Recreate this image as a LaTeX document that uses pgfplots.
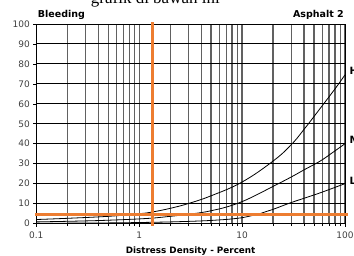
\documentclass[border=0pt]{standalone}
\usepackage{fontspec}
\setmainfont{DejaVu Sans}
\newfontfamily\seriffont{Liberation Serif}
\usepackage{pgfplots}
\pgfplotsset{compat=1.18}
\definecolor{org}{RGB}{237,125,49}
\begin{document}
\begin{tikzpicture}
\begin{axis}[
  scale only axis, width=308.7pt, height=199.5pt,
  xmode=log, xmin=0.1, xmax=100, ymin=0, ymax=100,
  xtick={0.1,1,10,100}, xticklabels={0.1,1,10,100},
  minor xtick={0.2,0.3,0.4,0.5,0.6,0.7,0.8,0.9,2,3,4,5,6,7,8,9,20,30,40,50,60,70,80,90},
  ytick={0,10,20,30,40,50,60,70,80,90,100},
  xmajorgrids, xminorgrids, ymajorgrids,
  major x grid style={black!62, line width=1.3pt},
  minor x grid style={black!62, line width=1.3pt},
  major y grid style={black, line width=1pt},
  tick align=outside, tick pos=left,
  major tick length=3pt, minor tick length=2.5pt,
  tick style={black, line width=0.6pt},
  axis line style={black, line width=1pt},
  ticklabel style={font=\fontsize{9}{10}\selectfont, text=black!75},
  xticklabel style={yshift=-2pt},
  /pgf/number format/assume math mode=true,
  xlabel={Distress Density - Percent},
  xlabel style={font=\fontsize{8.8}{10}\selectfont\bfseries, yshift=-1pt},
  clip=false,
]
\addplot[black, line width=0.8pt, smooth, tension=0.7] coordinates {
(0.1,2)(0.2,2.6)(0.5,3.6)(1,4.9)(1.35,5.8)(2,7.6)(3,10)(5,13.9)(10,20.8)(20,31.3)(30,39.5)(40,47.2)(60,59)(80,67.5)(100,74.5)};
\addplot[black, line width=0.8pt, smooth, tension=0.7] coordinates {
(0.1,0.8)(0.3,1.3)(0.6,1.8)(1,2.3)(1.35,2.7)(2,3.6)(3,4.6)(4.5,5.9)(6,7.3)(8.5,9.6)(12,12.8)(20,18.6)(30,23.3)(40,26.9)(57,31.2)(75,35.4)(100,40)};
\addplot[black, line width=0.8pt, smooth, tension=0.7] coordinates {
(0.1,0.1)(0.5,0.3)(1,0.5)(2,0.8)(4,1.3)(6,1.8)(8,2.3)(10,2.9)(15,5)(20,7.1)(30,10.5)(50,14.3)(70,17)(100,20)};
\addplot[org, line width=2.8pt] coordinates {(1.35,-1.1)(1.35,101.2)};
\addplot[org, line width=2.8pt] coordinates {(0.097,4.7)(108,4.7)};
\node[anchor=base west, inner sep=0, font=\fontsize{9.5}{11}\selectfont\bfseries] at ([xshift=1.5pt, yshift=6.5pt]rel axis cs:0,1) {Bleeding};
\node[anchor=base east, inner sep=0, font=\fontsize{9.5}{11}\selectfont\bfseries] at ([xshift=-1pt, yshift=6.5pt]rel axis cs:1,1) {Asphalt 2};
\node[anchor=west, inner sep=0, font=\fontsize{10}{12}\selectfont\bfseries] at ([xshift=4.5pt]axis cs:100,76.6) {H};
\node[anchor=west, inner sep=0, font=\fontsize{10}{12}\selectfont\bfseries] at ([xshift=4.5pt]axis cs:100,41.9) {M};
\node[anchor=west, inner sep=0, font=\fontsize{10}{12}\selectfont\bfseries] at ([xshift=4.5pt]axis cs:100,21.5) {L};
\node[anchor=base east, inner sep=0, font=\seriffont\fontsize{17}{20}\selectfont] at ([xshift=183.7pt, yshift=21pt]rel axis cs:0,1) {grafik di bawah ini};
\coordinate (SW) at (rel axis cs:0,0);
\coordinate (NE) at (rel axis cs:1,1);
\end{axis}
\pgfresetboundingbox
\path[use as bounding box] ([xshift=-36.3pt,yshift=-31.5pt]SW) rectangle ([xshift=9pt,yshift=24pt]NE);
\end{tikzpicture}
\end{document}
